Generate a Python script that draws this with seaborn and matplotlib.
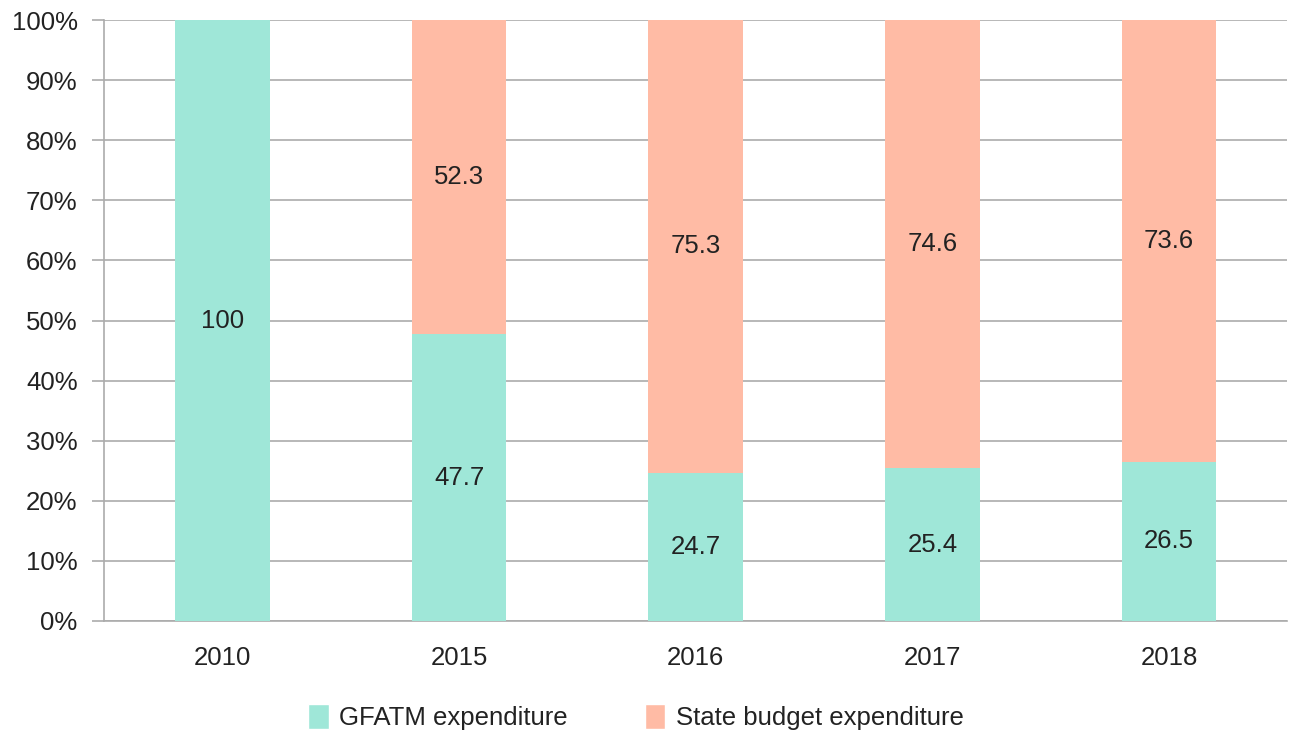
import pandas as pd
import matplotlib.pyplot as plt
import seaborn as sns
from matplotlib.patches import Patch

# Data
years = ["2010", "2015", "2016", "2017", "2018"]
gfatm = [100, 47.7, 24.7, 25.4, 26.5]
state = [0, 52.3, 75.3, 74.6, 73.6]

df = pd.DataFrame({"year": years, "gfatm": gfatm, "state": state})
df["total"] = df["gfatm"] + df["state"]

gfatmColor = "#9FE7D8"
stateColor = "#FFBBA5"
gridColor = "#ABABAB"
textColor = "#222222"
fs = 18.5

sns.set_style("white")
plt.rcParams["font.family"] = ["Liberation Sans", "DejaVu Sans"]

fig = plt.figure(figsize=(12.9, 7.33), dpi=100)
ax = fig.add_axes([0.0806, 0.1528, 0.9174, 0.8199])

# State budget on top (drawn as total), GFATM underneath
sns.barplot(data=df, x="year", y="total", color=stateColor, width=0.4,
            saturation=1, linewidth=0, ax=ax, zorder=2)
sns.barplot(data=df, x="year", y="gfatm", color=gfatmColor, width=0.4,
            saturation=1, linewidth=0, ax=ax, zorder=3)

# Labels in the middle of each segment
for i, (g, s) in enumerate(zip(gfatm, state)):
    ax.text(i, g / 2, f"{g:g}", ha="center", va="center", fontsize=fs,
            color=textColor, zorder=4)
    if s > 0:
        ax.text(i, g + s / 2, f"{s:g}", ha="center", va="center",
                fontsize=fs, color=textColor, zorder=4)

ax.set_ylim(0, 100)
ax.set_xlim(-0.5, 4.5)
ax.set_yticks(range(0, 101, 10))
ax.set_yticklabels([f"{v}%" for v in range(0, 101, 10)])
ax.yaxis.grid(True, color=gridColor, linewidth=1.2, zorder=0)
ax.set_axisbelow(True)
ax.set_xlabel("")
ax.set_ylabel("")

# x ticks between categories
ax.set_xticks([i - 0.5 for i in range(6)], minor=False)
ax.set_xticklabels([""] * 6)
ax.set_xticks(range(5), minor=True)
ax.set_xticklabels(years, minor=True)
ax.tick_params(axis="x", which="major", length=9, color=gridColor, width=1.2,
               direction="out")
ax.tick_params(axis="x", which="minor", length=0, pad=18, labelsize=fs,
               labelcolor=textColor)
ax.tick_params(axis="y", length=9, color=gridColor, width=1.2, pad=10,
               labelsize=fs, labelcolor=textColor, left=True)

for side in ["top", "right"]:
    ax.spines[side].set_visible(False)
ax.spines["left"].set_color(gridColor)
ax.spines["bottom"].set_color(gridColor)
ax.spines["left"].set_linewidth(1.2)
ax.spines["bottom"].set_linewidth(1.2)

handles = [Patch(facecolor=gfatmColor, label="GFATM expenditure"),
           Patch(facecolor=stateColor, label="State budget expenditure")]
fig.legend(handles=handles, loc="center", bbox_to_anchor=(0.493, 0.022),
           ncol=2, frameon=False, fontsize=fs, handlelength=0.8,
           handleheight=1.1, handletextpad=0.4, columnspacing=3.0,
           labelcolor=textColor)

fig.savefig("out.png", dpi=100)
